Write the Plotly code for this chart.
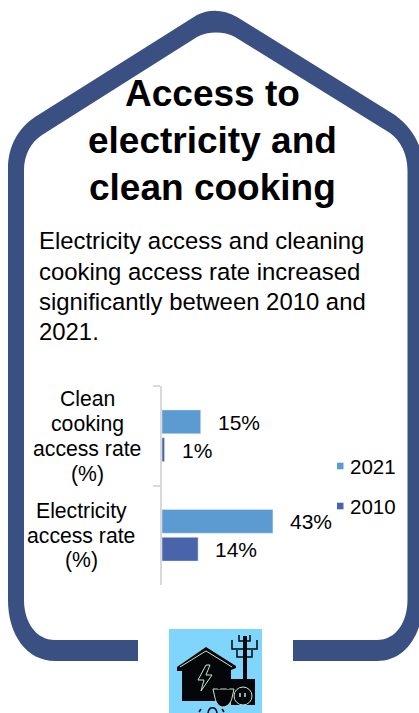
import plotly.graph_objects as go

# Chart data
categories = ["Clean cooking access rate (%)", "Electricity access rate (%)"]
years = ["2021", "2010"]
values_2021 = [15, 43]
values_2010 = [1, 14]
series_colors = ["#5B9BD2", "#4A64AC"]

# Copy blocks
category_lines = [["Clean", "cooking", "access rate", "(%)"], ["Electricity", "access rate", "(%)"]]
title_lines = ["Access to", "electricity and", "clean cooking"]
body_lines = ["Electricity access and cleaning", "cooking access rate increased",
              "significantly between 2010 and", "2021."]

W, H = 419, 713
FONT = "Liberation Sans"
NAVY = "#3A5083"
PX_PER_UNIT = 2.58
AXIS_LEFT, AXIS_TOP, AXIS_BOTTOM = 162, 386, 585
AXIS_RIGHT = 400


def fx(x):
    return x / W


def fy(y):
    return 1 - y / H


def path(commands):
    """Build an SVG path in paper fractions from page-pixel commands."""
    out = []
    for cmd in commands:
        op, pts = cmd[0], cmd[1:]
        out.append(op + " ".join(f"{fx(x):.5f},{fy(y):.5f}" for x, y in pts))
    return " ".join(out)


def fill_shape(commands, color, layer="below"):
    return dict(type="path", xref="paper", yref="paper", path=path(commands),
                fillcolor=color, line=dict(width=0), layer=layer)


def stroke_shape(commands, color, width, layer="above"):
    return dict(type="path", xref="paper", yref="paper", path=path(commands),
                line=dict(color=color, width=width), layer=layer)


def label(x, y, text, size, anchor="center", bold=False):
    return dict(xref="paper", yref="paper", x=fx(x), y=fy(y), text=f"<b>{text}</b>" if bold else text,
                xanchor=anchor, yanchor="middle", showarrow=False, borderpad=0,
                font=dict(family=FONT, size=size, color="#000000"))


fig = go.Figure()
for name, vals, color in zip(years, [values_2021, values_2010], series_colors):
    fig.add_bar(y=categories, x=vals, name=name, orientation="h",
                marker=dict(color=color), showlegend=False, hoverinfo="skip")

# House-shaped frame, open at the bottom around the icon
frame = [
    ("M", (138, 640)), ("L", (55, 640)), ("C", (36, 640), (24, 622), (24, 600)),
    ("L", (24, 170)), ("C", (24, 155), (31, 142), (42, 135)),
    ("L", (197, 37)), ("C", (208, 31), (224, 31), (235, 37)),
    ("L", (390, 133)), ("C", (401, 141), (407.5, 155), (407.5, 170)),
    ("L", (407.5, 600)), ("C", (407.5, 622), (396, 640), (377, 640)),
    ("L", (293, 640)), ("L", (293, 661)), ("L", (377, 661)),
    ("C", (405, 661), (423, 635), (423, 600)), ("L", (423, 168)),
    ("C", (423, 145), (412, 128), (395, 115)),
    ("L", (237, 17)), ("C", (223, 9), (209, 9), (197, 15)),
    ("L", (35, 117)), ("C", (18, 128), (8, 147), (8, 168)),
    ("L", (8, 600)), ("C", (8, 635), (27, 661), (55, 661)), ("L", (138, 661)), ("Z",),
]
shapes = [fill_shape(frame, NAVY)]

# Energy icon: house, mast and plug
ICON_BG, INK, PALE = "#7FD5FB", "#05060A", "#C9E6C8"
shapes += [
    fill_shape([("M", (169, 629)), ("L", (262, 629)), ("L", (262, 713)), ("L", (169, 713)), ("Z",)], ICON_BG),
    fill_shape([("M", (206, 647)), ("L", (236, 666)), ("L", (236, 668)), ("L", (231, 670)), ("L", (231, 679)),
                ("L", (255, 679)), ("L", (255, 705)), ("L", (231, 705)), ("L", (231, 701)), ("L", (182, 701)),
                ("L", (182, 671)), ("L", (177, 671)), ("L", (177, 667)), ("Z",)], INK),
    stroke_shape([("M", (180, 667)), ("L", (206, 651)), ("L", (232, 667))], PALE, 1),
    stroke_shape([("M", (206, 665)), ("L", (198, 680)), ("L", (204, 680)), ("L", (201, 691)),
                  ("L", (212, 675)), ("L", (206, 675)), ("L", (210, 665)), ("Z",)], PALE, 1),
    fill_shape([("M", (243, 636)), ("L", (247, 636)), ("L", (247, 679)), ("L", (243, 679)), ("Z",)], INK),
    stroke_shape([("M", (232, 640)), ("L", (232, 649)), ("L", (257, 649)), ("L", (257, 640))], INK, 1.5),
    stroke_shape([("M", (237, 650)), ("L", (237, 657)), ("L", (252, 657)), ("L", (252, 650))], INK, 1.5),
    stroke_shape([("M", (239, 635)), ("L", (239, 641)), ("L", (250, 641)), ("L", (250, 635))], INK, 1.5),
    # socket and plug
    dict(type="circle", xref="paper", yref="paper", x0=fx(234), x1=fx(252), y0=fy(687), y1=fy(705),
         fillcolor=INK, line=dict(color=PALE, width=1), layer="above"),
    stroke_shape([("M", (240, 693)), ("L", (240, 697))], PALE, 1.5),
    stroke_shape([("M", (245, 693)), ("L", (245, 697))], PALE, 1.5),
    fill_shape([("M", (213, 689)), ("L", (234, 689)), ("L", (232, 698)), ("C", (231, 703), (227, 707), (223, 707)),
                ("C", (219, 707), (216, 703), (215, 698)), ("Z",)], INK, layer="above"),
    stroke_shape([("M", (213, 689)), ("L", (234, 689)), ("L", (232, 698)), ("C", (231, 703), (227, 707), (223, 707)),
                  ("C", (219, 707), (216, 703), (215, 698)), ("Z",)], PALE, 1),
    stroke_shape([("M", (219, 689)), ("L", (219, 681))], INK, 2.5),
    stroke_shape([("M", (228, 689)), ("L", (228, 681))], INK, 2.5),
    stroke_shape([("M", (208, 713)), ("C", (209, 706), (216, 706), (217, 713))], INK, 1.5),
    stroke_shape([("M", (199, 712)), ("L", (201, 709))], INK, 1.5),
    stroke_shape([("M", (224, 712)), ("L", (222, 709))], INK, 1.5),
]

annotations = []
for y, text in zip([93, 140, 187], title_lines):
    annotations.append(label(212.5, y, text, 37, bold=True))
for y, text in zip([240, 271, 301, 331], body_lines):
    annotations.append(label(37.5, y, text, 23.9, anchor="left"))

# Category labels, centred beside the axis
for lines, cx, ys in zip(category_lines, [87, 81], [[399, 424, 448, 474], [511, 535, 560]]):
    for y, text in zip(ys, lines):
        annotations.append(label(cx, y, text, 21.2))

# Value labels follow the end of each bar
for vals, yshift in zip([values_2021, values_2010], [14, -14]):
    for cat, v in zip(categories, vals):
        annotations.append(dict(xref="x", yref="y", x=v, y=cat, text=f"{v}%", xanchor="left", yanchor="middle",
                                xshift=16, yshift=yshift - 0.5, showarrow=False, borderpad=0,
                                font=dict(family=FONT, size=21, color="#000000")))

# Compact legend with small square keys
for name, color, y in zip(years, series_colors, [466, 506]):
    shapes.append(fill_shape([("M", (337, y - 3.3)), ("L", (343.5, y - 3.3)), ("L", (343.5, y + 3.3)),
                              ("L", (337, y + 3.3)), ("Z",)], color, layer="above"))
    annotations.append(label(348.5, y, name, 20.5, anchor="left"))

fig.update_layout(
    width=W, height=H, autosize=False,
    margin=dict(l=0, r=0, t=0, b=0),
    paper_bgcolor="#FFFFFF", plot_bgcolor="rgba(0,0,0,0)",
    barmode="group", bargap=0.44, bargroupgap=1 / 7,
    shapes=shapes, annotations=annotations, showlegend=False,
    xaxis=dict(domain=[fx(AXIS_LEFT), fx(AXIS_RIGHT)],
               range=[0, (AXIS_RIGHT - AXIS_LEFT) / PX_PER_UNIT], visible=False, fixedrange=True),
    yaxis=dict(domain=[fy(AXIS_BOTTOM), fy(AXIS_TOP)], type="category", autorange="reversed",
               showline=True, linecolor="#D9D9D9", linewidth=2, ticks="outside", ticklen=7,
               tickwidth=1.5, tickcolor="#D9D9D9", tickson="boundaries", showticklabels=False,
               showgrid=False, zeroline=False, fixedrange=True),
)

fig.write_html("out.html", config=dict(displayModeBar=False))
